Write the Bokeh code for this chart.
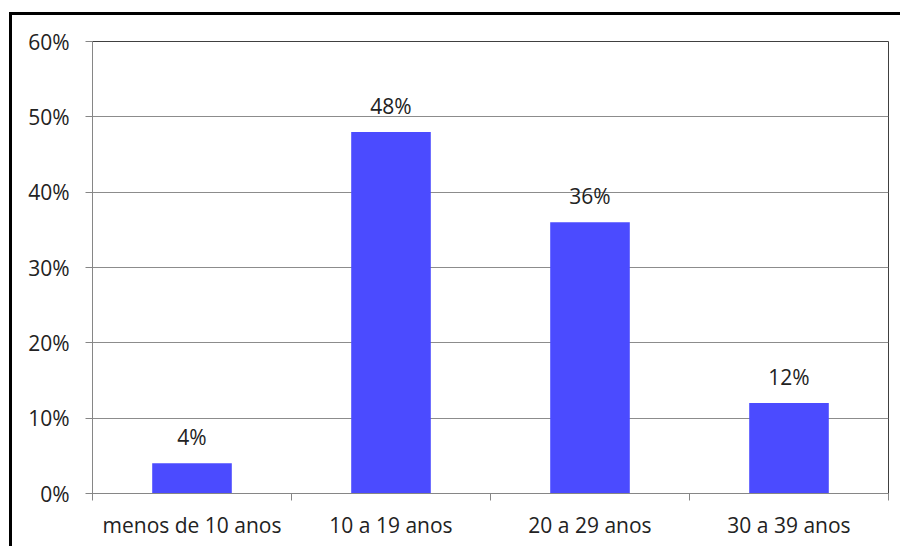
from bokeh.plotting import figure
from bokeh.models import Range1d, FixedTicker, SingleIntervalTicker, PrintfTickFormatter, ColumnDataSource
from bokeh.core.properties import value
from bokeh.embed import file_html
from bokeh.resources import INLINE

categories = ["menos de 10 anos", "10 a 19 anos", "20 a 29 anos", "30 a 39 anos"]
percentages = [4, 48, 36, 12]

FONT = "Open Sans"
TXT = "#222222"
FS = "21px"

xs = [i + 0.5 for i in range(len(categories))]
src = ColumnDataSource(dict(x=xs, top=percentages, label=[f"{v}%" for v in percentages]))

p = figure(width=891, height=534, output_backend="svg", toolbar_location=None,
           x_range=Range1d(0, len(categories)), y_range=Range1d(0, 60),
           min_border_left=80, min_border_top=26, min_border_right=15, min_border_bottom=56)
p.styles = {"border-top": "3px solid black", "border-left": "3px solid black",
            "margin-top": "12px", "margin-left": "9px"}
p.outline_line_color = "#404040"
p.background_fill_color = "white"
p.border_fill_color = "white"

p.vbar(x="x", top="top", width=0.4, bottom=0, source=src, fill_color="#4B4BFF", line_color=None)
p.text(x="x", y="top", text="label", source=src, text_align="center", text_baseline="bottom",
       y_offset=-12, text_font=value(FONT), text_font_size=FS, text_color=TXT)

p.xgrid.grid_line_color = None
p.ygrid.grid_line_color = "#8c8c8c"
p.ygrid.grid_line_width = 1

ya = p.yaxis[0]
ya.ticker = SingleIntervalTicker(interval=10)
ya.formatter = PrintfTickFormatter(format="%d%%")
ya.axis_line_color = "#868686"
ya.major_tick_line_color = "#868686"
ya.major_tick_out = 7
ya.major_tick_in = 0
ya.minor_tick_line_color = None
ya.major_label_standoff = 16
ya.major_label_text_font = FONT
ya.major_label_text_font_size = FS
ya.major_label_text_color = TXT

xa = p.xaxis[0]
xa.ticker = FixedTicker(ticks=xs, minor_ticks=list(range(len(categories) + 1)))
xa.major_label_overrides = {x: c for x, c in zip(xs, categories)}
xa.axis_line_color = "#868686"
xa.major_tick_line_color = None
xa.major_tick_out = 0
xa.major_tick_in = 0
xa.minor_tick_line_color = "#868686"
xa.minor_tick_out = 7
xa.minor_tick_in = 0
xa.major_label_standoff = 10
xa.major_label_text_font = FONT
xa.major_label_text_font_size = FS
xa.major_label_text_color = TXT

open("out.html", "w").write(file_html(p, INLINE))
